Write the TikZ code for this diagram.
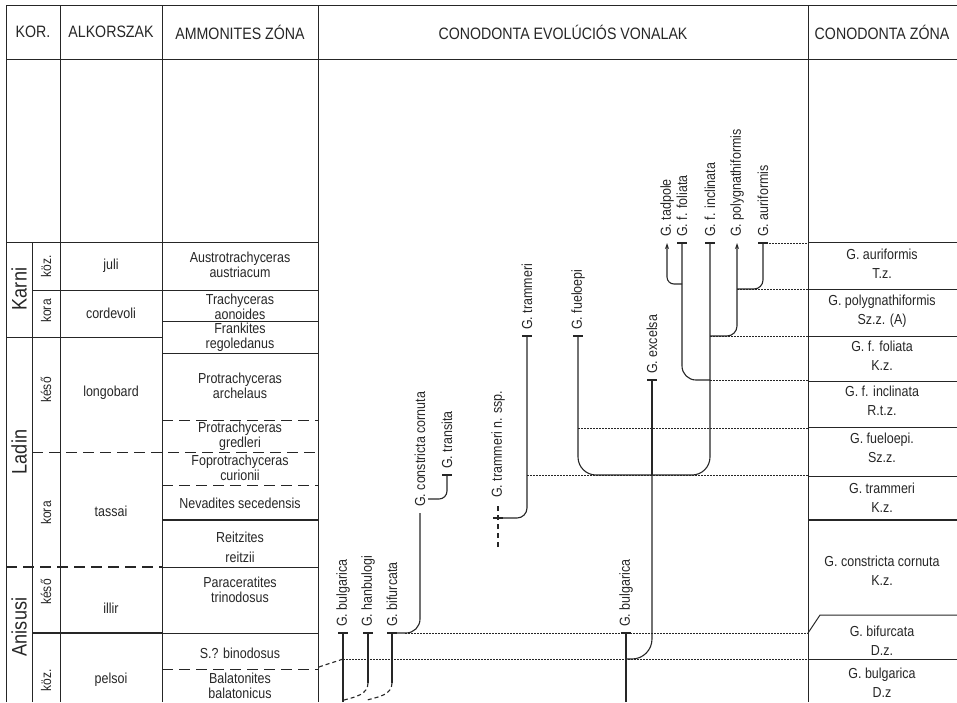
\documentclass[tikz,border=0pt]{standalone}
\usepackage{fontspec}
\setmainfont{Liberation Sans}[FakeStretch=0.86]
\usetikzlibrary{arrows.meta}
\begin{document}
\begin{tikzpicture}[x=1pt,y=-1pt,
  ink/.style={draw=black!85},
  tbl/.style={ink,line width=1pt},
  thk/.style={ink,line width=2.2pt},
  dsh/.style={dash pattern=on 11pt off 6pt},
  dot/.style={ink,line width=0.8pt,dash pattern=on 1.5pt off 1.5pt},
  lin/.style={ink,line width=1.1pt},
  bar/.style={ink,line width=2pt},
  hd/.style={text=black!85,font=\fontsize{16.5}{18}\selectfont},
  txt/.style={text=black!85,align=center,inner sep=0pt,font=\fontsize{14.5}{15}\selectfont},
  zn/.style={txt,font=\fontsize{14.5}{19}\selectfont},
  big/.style={text=black!85,rotate=90,font=\fontsize{21}{22}\selectfont},
  sub/.style={txt,rotate=90,font=\fontsize{14}{15}\selectfont},
  lab/.style={text=black!85,rotate=90,anchor=west,inner sep=0pt,font=\fontsize{14.5}{15}\selectfont}]
\useasboundingbox (0,0) rectangle (957,702);
%
\draw[tbl](6,702)--(6,5)--(957,5);
\draw[tbl](6,59)--(957,59);
\foreach \x in {60,162,318,808}{\draw[tbl](\x,5)--(\x,702);}
\draw[tbl](32,242)--(32,702);
\foreach \y/\a/\b in {242/6/318,290/32/318,321/162/318,337/6/162,353/162/318,567/162/318,633/162/318}{\draw[tbl](\a,\y)--(\b,\y);}
\foreach \y/\a/\b in {420/162/318,452/32/318,485/162/318,669/162/318}{\draw[tbl,dsh](\a,\y)--(\b,\y);}
\draw[thk](162,520)--(318,520);
\draw[thk,dsh](6,567)--(162,567);
\draw[thk](32,633)--(162,633);
\foreach \y in {242,289,336,381,427,476,659}{\draw[tbl](808,\y)--(957,\y);}
\draw[thk](808,520)--(957,520);
\draw[tbl](808,633)--(820,615)--(957,615);
%
\node[hd](hkor) at (33,32){KOR.};
\node[hd](halk) at (111,32){ALKORSZAK};
\node[hd](hamm) at (240,32){AMMONITES ZÓNA};
\node[hd](hevo) at (563,32){CONODONTA EVOLÚCIÓS VONALAK};
\node[hd](hzon) at (882,32){CONODONTA ZÓNA};
%
\node[big](karni) at (19,289){Karni};
\node[big](ladin) at (19,452){Ladin};
\node[big](anis) at (19,627){Anisusi};
\foreach \y/\t [count=\i] in {266/köz.,311/kora,390/késő,513/kora,592/késő,680/köz.}{\node[sub](s\i) at (46,\y){\t};}
\foreach \y/\t [count=\i] in {266/juli,313/cordevoli,393/longobard,511/tassai,608/illir,680/pelsoi}{\node[txt](a\i) at (111,\y){\t};}
%
\node[txt](am1) at (240,265){Austrotrachyceras\\austriacum};
\node[txt](am2) at (240,307){Trachyceras\\aonoides};
\node[txt](am3) at (240,337){Frankites\\regoledanus};
\node[txt](am4) at (240,386){Protrachyceras\\archelaus};
\node[txt](am5) at (240,436){Protrachyceras\\gredleri};
\node[txt](am6) at (240,468){Foprotrachyceras\\curionii};
\node[txt](am7) at (240,503){Nevadites secedensis};
\node[txt](am8) at (240,547){Reitzites\\[5pt]reitzii};
\node[txt](am9) at (240,590){Paraceratites\\trinodosus};
\node[txt](am10) at (240,653){S.? binodosus};
\node[txt](am11) at (240,686){Balatonites\\balatonicus};
%
\node[zn](z1) at (882,264){G. auriformis\\T.z.};
\node[zn](z2) at (882,311){G. polygnathiformis\\Sz.z. (A)};
\node[zn](z3) at (882,356){G. f. foliata\\K.z.};
\node[zn](z4) at (882,401){G. f. inclinata\\R.t.z.};
\node[zn](z5) at (882,448){G. fueloepi.\\Sz.z.};
\node[zn](z6) at (882,498){G. trammeri\\K.z.};
\node[zn](z7) at (882,571){G. constricta cornuta\\K.z.};
\node[zn](z8) at (882,641){G. bifurcata\\D.z.};
\node[zn](z9) at (882,683){G. bulgarica\\D.z};
%
\coordinate (bulgA) at (343,633); \coordinate (bulgA0) at (343,702);
\coordinate (hanb) at (368,633); \coordinate (hanb0) at (368,683); \coordinate (hanb1) at (344,700);
\coordinate (bifu) at (392,633); \coordinate (bifu0) at (392,683); \coordinate (bifu1) at (367,700);
\coordinate (cornu) at (420,513);
\coordinate (trans) at (447,475); \coordinate (transb) at (428,499);
\coordinate (trnssp) at (498,518); \coordinate (trnssp0) at (498,547); \coordinate (trnssp1) at (498,503);
\coordinate (tramm) at (527,336);
\coordinate (fuel) at (578,336);
\coordinate (excel) at (652,380);
\coordinate (bulgB) at (626,633); \coordinate (bulgB0) at (626,702);
\coordinate (tadp) at (667,243); \coordinate (foli) at (682,243); \coordinate (incl) at (710,243);
\coordinate (polyg) at (737,243); \coordinate (auri) at (763,243);
\coordinate (j1) at (737,289); \coordinate (j2) at (710,336); \coordinate (j3) at (710,380);
\coordinate (j4) at (652,475); \coordinate (j5) at (626,659); \coordinate (j6) at (682,284);
\coordinate (ab) at (319,667); \coordinate (ab1) at (343,659);
%
\draw[dot](auri)--(808,243);
\foreach \a/\y in {737/289,710/336,710/380,578/428,527/475,405/633,343/659}{\draw[dot](\a,\y)--(808,\y);}
%
\draw[lin](bulgA0)--(bulgA);
\draw[lin](hanb0)--(hanb);
\draw[lin](bifu0)--(bifu);
\draw[lin,dash pattern=on 4pt off 3pt](hanb0) to[out=-90,in=15](hanb1);
\draw[lin,dash pattern=on 4pt off 3pt](bifu0) to[out=-90,in=15](bifu1);
\draw[lin,dash pattern=on 4pt off 3pt](ab) to[out=20,in=200](ab1);
\draw[lin,rounded corners=14pt](bifu)-|(cornu);
\draw[lin,rounded corners=8pt](transb)-|(trans);
\draw[lin,dash pattern=on 5pt off 4pt](trnssp0)--(trnssp1);
\draw[lin,rounded corners=10pt](trnssp)-|(tramm);
\draw[lin,rounded corners=18pt](fuel)|-(j4)-|(incl);
\draw[lin](excel)--(j4);
\draw[lin,rounded corners=20pt](excel)|-(j5);
\draw[lin](bulgB0)--(bulgB);
\draw[lin,rounded corners=14pt](foli)|-(j3);
\draw[lin,rounded corners=7pt,-{Stealth[length=6pt,width=4pt]}](j6)-|(tadp);
\draw[lin,rounded corners=10pt,-{Stealth[length=6pt,width=4pt]}](j2)-|(polyg);
\draw[lin,rounded corners=9pt](j1)-|(auri);
\foreach \c in {bulgA,hanb,bifu,trans,trnssp,tramm,fuel,excel,bulgB,foli,incl,auri}{\draw[bar]([xshift=-5pt]\c)--([xshift=5pt]\c);}
%
\foreach \c/\t in {bulgA/G. bulgarica,hanb/G. hanbulogi,bifu/G. bifurcata,cornu/G. constricta cornuta,trans/G. transita,tramm/G. trammeri,fuel/G. fueloepi,excel/G. excelsa,bulgB/G. bulgarica,tadp/G. tadpole,foli/G. f. foliata,incl/G. f. inclinata,polyg/G. polygnathiformis,auri/G. auriformis}{\node[lab](l\c) at ([yshift=6pt]\c){\t};}
\node[lab](ltrnssp) at (498,498){G. trammeri n. ssp.};
\end{tikzpicture}
\end{document}
